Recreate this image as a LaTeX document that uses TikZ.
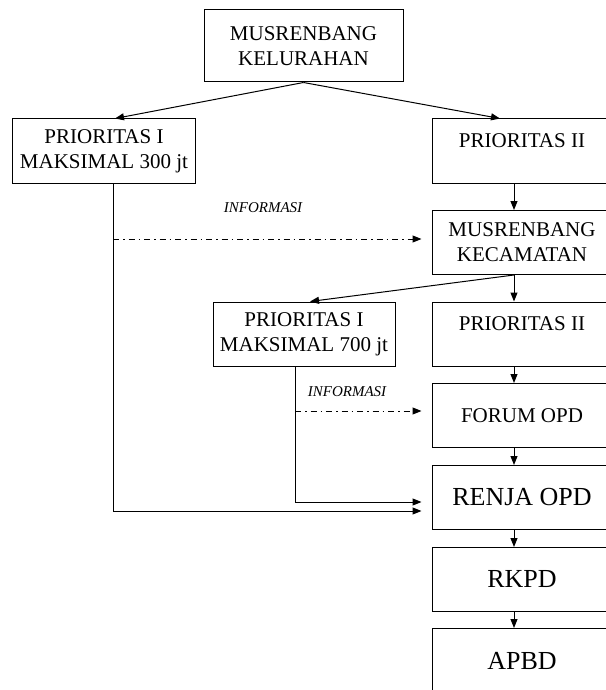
\documentclass[tikz,border=0pt]{standalone}
\usepackage{fontspec}
\setmainfont{Liberation Serif}
\usetikzlibrary{arrows.meta}

\begin{document}
\begin{tikzpicture}[x=1bp, y=-1bp,
  box/.style={draw, line width=1bp, minimum width=182bp, minimum height=64bp,
    inner sep=0pt, align=center, font=\fontsize{21bp}{25bp}\selectfont},
  colbox/.style={box, minimum width=180bp},
  bigbox/.style={colbox, font=\fontsize{26bp}{30bp}\selectfont},
  info/.style={font=\fontsize{15bp}{18bp}\selectfont\itshape},
  arr/.style={-{Triangle[length=9bp,width=7bp]}, line width=1bp},
  dashdot/.style={arr, dash pattern=on 6bp off 4bp on 1.5bp off 4bp}]
  \useasboundingbox (0,0) rectangle (606,690);
  \clip (0,0) rectangle (606,690);
  \coordinate (colx) at (514,0);
  \node[box, minimum width=199bp, minimum height=72bp] at (303.5,46) (kel) {MUSRENBANG\\KELURAHAN};
  \node[box] at (104,151) (pI) {PRIORITAS I\\MAKSIMAL 300 jt};
  \node[colbox] at (522,151) (pII) {PRIORITAS II\\[-12bp]\strut};
  \node[colbox] at (522,242.5) (kec) {MUSRENBANG\\KECAMATAN};
  \node[box] at (304,334) (pIkec) {PRIORITAS I\\MAKSIMAL 700 jt};
  \node[colbox] at (522,334) (pIIkec) {PRIORITAS II\\[-12bp]\strut};
  \node[colbox] at (522,415.5) (forum) {FORUM OPD};
  \node[bigbox] at (522,497.5) (renja) {RENJA OPD};
  \node[bigbox] at (522,579.5) (rkpd) {RKPD};
  \node[bigbox] at (522,660.5) (apbd) {APBD};
  \node[info] at (263,208) (info1) {INFORMASI};
  \node[info] at (347,392) (info2) {INFORMASI};
  \coordinate (d1) at (113,239);
  \coordinate (d2) at (295,411);
  \draw[arr] (kel.south) -- ([xshift=11bp]pI.north);
  \draw[arr] (kel.south) -- ([xshift=-22bp]pII.north);
  \draw[arr] (pII.south -| colx) -- (kec.north -| colx);
  \draw[arr] (kec.south -| colx) -- ([xshift=6bp]pIkec.north);
  \draw[arr] (kec.south -| colx) -- (pIIkec.north -| colx);
  \draw[arr] (pIIkec.south -| colx) -- (forum.north -| colx);
  \draw[arr] (forum.south -| colx) -- (renja.north -| colx);
  \draw[arr] (renja.south -| colx) -- (rkpd.north -| colx);
  \draw[arr] (rkpd.south -| colx) -- (apbd.north -| colx);
  \draw[arr, shorten >=10bp] ([xshift=9bp]pI.south) |- ([yshift=-13.5bp]renja.west);
  \draw[arr, shorten >=10bp] ([xshift=-9bp]pIkec.south) |- ([yshift=-4.5bp]renja.west);
  \draw[dashdot, shorten >=10bp] (d1) -- (kec.west |- d1);
  \draw[dashdot, shorten >=10bp] (d2) -- (forum.west |- d2);
\end{tikzpicture}
\end{document}
